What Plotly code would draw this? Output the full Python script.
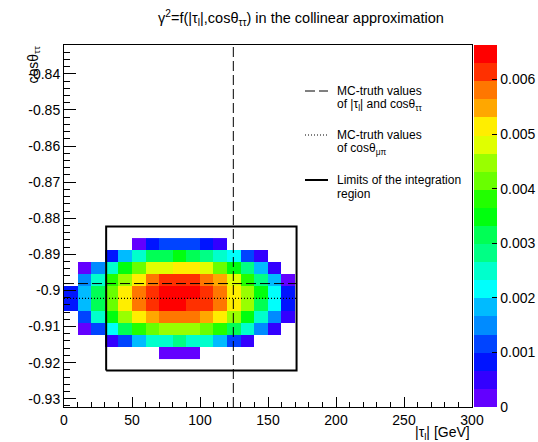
import plotly.graph_objects as go

# ---------------- data ----------------
# histogram binning (30 x 30 bins)
x_low, x_high, n_xbins = 0.0, 300.0, 30
y_low, y_high, n_ybins = -0.9323, -0.8320, 30
first_filled_ybin = 4          # first non-empty row (from bottom)

# bin contents for the non-empty rows (bottom -> top), columns 0..16 (0-170 GeV), x 1e-3
N = None
z_rows = [
    [N, N, N, N, N, N, N, 0.17, 0.17, 0.17, N, N, N, N, N, N, N],
    [N, N, N, 0.50, 1.16, 1.82, 2.49, 2.49, 2.82, 2.49, 2.49, 1.82, 1.16, 0.50, N, N, N],
    [N, 0.17, 1.16, 2.15, 3.15, 3.81, 4.14, 4.48, 4.48, 4.48, 4.14, 3.81, 3.15, 2.49, 1.49, 0.50, N],
    [N, 1.16, 2.49, 3.48, 4.48, 5.14, 5.47, 5.80, 5.80, 5.80, 5.47, 5.14, 4.48, 3.48, 2.49, 1.49, 0.50],
    [0.83, 1.82, 3.15, 4.14, 5.14, 5.80, 6.13, 6.46, 6.46, 6.13, 6.13, 5.80, 5.14, 4.48, 3.15, 2.15, 0.83],
    [0.83, 1.82, 3.15, 4.14, 5.14, 5.80, 6.13, 6.46, 6.46, 6.46, 6.13, 5.80, 5.14, 4.48, 3.48, 2.15, 0.83],
    [N, 1.49, 2.49, 3.81, 4.48, 5.14, 5.80, 6.13, 6.13, 6.13, 5.80, 5.47, 4.81, 3.81, 2.82, 1.82, 0.17],
    [N, 0.17, 1.49, 2.49, 3.48, 4.14, 4.81, 4.81, 5.14, 5.14, 4.81, 4.14, 3.48, 2.82, 1.82, 0.50, N],
    [N, N, N, 0.83, 1.82, 2.49, 3.15, 3.15, 3.48, 3.15, 2.82, 2.49, 2.15, 1.16, 0.50, N, N],
    [N, N, N, N, N, 0.17, 0.83, 1.16, 1.16, 1.16, 0.83, 0.50, N, N, N, N, N],
]
z_scale = 1e-3
z_max = 6.63e-3

# reference values
mc_tau_l = 124.5          # GeV
mc_cos_tautau = -0.8981
mc_cos_mupi = -0.9022
line_x_end = 171.0
# integration limits
int_x = [31.0, 171.0]
int_y = [-0.9222, -0.8823]

# colour-bar ticks
cb_tickvals = [0, 0.001, 0.002, 0.003, 0.004, 0.005, 0.006]
cb_ticktext = ["0", "0.001", "0.002", "0.003", "0.004", "0.005", "0.006"]

# axis ticks
x_tickvals = [0, 50, 100, 150, 200, 250, 300]
y_tickvals = [-0.93, -0.92, -0.91, -0.90, -0.89, -0.88, -0.87, -0.86, -0.85, -0.84]
y_ticktext = ["-0.93", "-0.92", "-0.91", "-0.9", "-0.89", "-0.88", "-0.87", "-0.86", "-0.85", "-0.84"]

# legend entries: (first line, second line, dash style, width)
legend_entries = [
    ("MC-truth values", "of |τ<sub>l</sub>| and cosθ<sub>ττ</sub>", "10px,4px", 1),
    ("MC-truth values", "of cosθ<sub>μπ</sub>", "1px,2px", 1.2),
    ("Limits of the integration", "region", "solid", 2),
]

# ROOT "pretty" palette, 20 contour levels
palette = [
    "rgb(99,0,255)", "rgb(51,0,255)", "rgb(0,20,255)", "rgb(0,68,255)", "rgb(0,139,255)",
    "rgb(0,187,255)", "rgb(0,255,252)", "rgb(0,255,204)", "rgb(0,255,133)", "rgb(0,255,85)",
    "rgb(0,255,14)", "rgb(34,255,0)", "rgb(105,255,0)", "rgb(153,255,0)", "rgb(224,255,0)",
    "rgb(255,238,0)", "rgb(255,167,0)", "rgb(255,119,0)", "rgb(255,48,0)", "rgb(255,0,0)",
]

# ---------------- figure ----------------
FONT = "Liberation Sans, Arial, Helvetica, sans-serif"

colorscale = []
n = len(palette)
for i, c in enumerate(palette):
    colorscale.append([i / n, c])
    colorscale.append([(i + 1) / n, c])

z = [[(v * z_scale if v is not None else None) for v in row] for row in z_rows]
dx = (x_high - x_low) / n_xbins
dy = (y_high - y_low) / n_ybins

W, H = 538, 442
ml, mr, mt, mb = 64, 66, 45, 35
plot_w = W - ml - mr
plot_h = H - mt - mb


def px2x(px):
    return (px - ml) / plot_w


def py2y(py):
    return 1 - (py - mt) / plot_h


fig = go.Figure()
fig.add_trace(go.Heatmap(
    z=z, x0=x_low + dx / 2, dx=dx, y0=y_low + (first_filled_ybin + 0.5) * dy, dy=dy,
    colorscale=colorscale, zmin=0, zmax=z_max, hoverinfo="skip", showlegend=False,
    colorbar=dict(
        x=px2x(474), xanchor="left", xref="paper",
        y=0.5, yanchor="middle", yref="paper",
        thickness=23, thicknessmode="pixels",
        len=plot_h, lenmode="pixels",
        xpad=0, ypad=0, outlinewidth=0,
        tickmode="array", tickvals=cb_tickvals, ticktext=cb_ticktext,
        ticks="inside", ticklen=5, tickcolor="black", tickwidth=1,
        tickfont=dict(family=FONT, size=14, color="black"),
    ),
))

fig.add_trace(go.Scatter(
    x=[mc_tau_l, mc_tau_l, None, x_low, line_x_end],
    y=[y_low, y_high, None, mc_cos_tautau, mc_cos_tautau],
    mode="lines", line=dict(color="black", width=1, dash="10px,4px"),
    showlegend=False, hoverinfo="skip",
))
fig.add_trace(go.Scatter(
    x=[x_low, line_x_end], y=[mc_cos_mupi, mc_cos_mupi],
    mode="lines", line=dict(color="black", width=1.2, dash="1px,2px"),
    showlegend=False, hoverinfo="skip",
))
fig.add_trace(go.Scatter(
    x=[int_x[0], int_x[1], int_x[1], int_x[0], int_x[0]],
    y=[int_y[0], int_y[0], int_y[1], int_y[1], int_y[0]],
    mode="lines", line=dict(color="black", width=2),
    showlegend=False, hoverinfo="skip",
))

axis_common = dict(
    showgrid=False, zeroline=False, showline=True, mirror=True,
    linecolor="black", linewidth=1, ticks="inside", tickcolor="black",
    tickfont=dict(family=FONT, size=14, color="black"),
)

annotations = [
    dict(text="cosθ<sub>ττ</sub>", textangle=-90, xref="paper", yref="paper",
         x=px2x(33), y=1.0, xanchor="center", yanchor="top",
         showarrow=False, font=dict(family=FONT, size=14, color="black")),
    dict(text="|τ<sub>l</sub>| [GeV]", xref="paper", yref="paper",
         x=1.0, y=py2y(433), xanchor="right", yanchor="middle",
         showarrow=False, font=dict(family=FONT, size=14, color="black")),
]
shapes = []
legend_top = [91, 135, 180]
for (l1, l2, dash, wid), ytop in zip(legend_entries, legend_top):
    annotations.append(dict(text=l1, xref="paper", yref="paper", x=px2x(335), y=py2y(ytop),
                            xanchor="left", yanchor="middle", showarrow=False,
                            font=dict(family=FONT, size=12, color="black")))
    annotations.append(dict(text=l2, xref="paper", yref="paper", x=px2x(335), y=py2y(ytop + 14),
                            xanchor="left", yanchor="middle", showarrow=False,
                            font=dict(family=FONT, size=12, color="black")))
    shapes.append(dict(type="line", xref="paper", yref="paper",
                       x0=px2x(305), x1=px2x(328), y0=py2y(ytop), y1=py2y(ytop),
                       line=dict(color="black", width=wid, dash=dash)))

fig.update_layout(
    width=W, height=H,
    margin=dict(l=ml, r=mr, t=mt, b=mb, autoexpand=False),
    paper_bgcolor="white", plot_bgcolor="white",
    font=dict(family=FONT, size=12, color="black"),
    xaxis=dict(range=[x_low, x_high], tickmode="array", tickvals=x_tickvals, ticklen=10,
               minor=dict(tickmode="linear", tick0=0, dtick=10, ticks="inside", ticklen=5,
                          tickcolor="black"),
               **axis_common),
    yaxis=dict(range=[y_low, y_high], tickmode="array", tickvals=y_tickvals,
               ticktext=y_ticktext, ticklen=12,
               minor=dict(tickmode="linear", tick0=-0.84, dtick=0.002, ticks="inside",
                          ticklen=6, tickcolor="black"),
               **axis_common),
    showlegend=False,
    title=dict(text="γ<sup>2</sup>=f(|τ<sub>l</sub>|,cosθ<sub>ττ</sub>) in the collinear approximation",
               x=301 / W, xanchor="center", xref="container",
               y=1 - 18 / H, yanchor="middle", yref="container",
               font=dict(family=FONT, size=14.5, color="black")),
    annotations=annotations,
    shapes=shapes,
)

fig.write_html("out.html", config={"displayModeBar": False, "staticPlot": True},
               post_script="document.body.style.margin='0';document.body.style.overflow='hidden';")
